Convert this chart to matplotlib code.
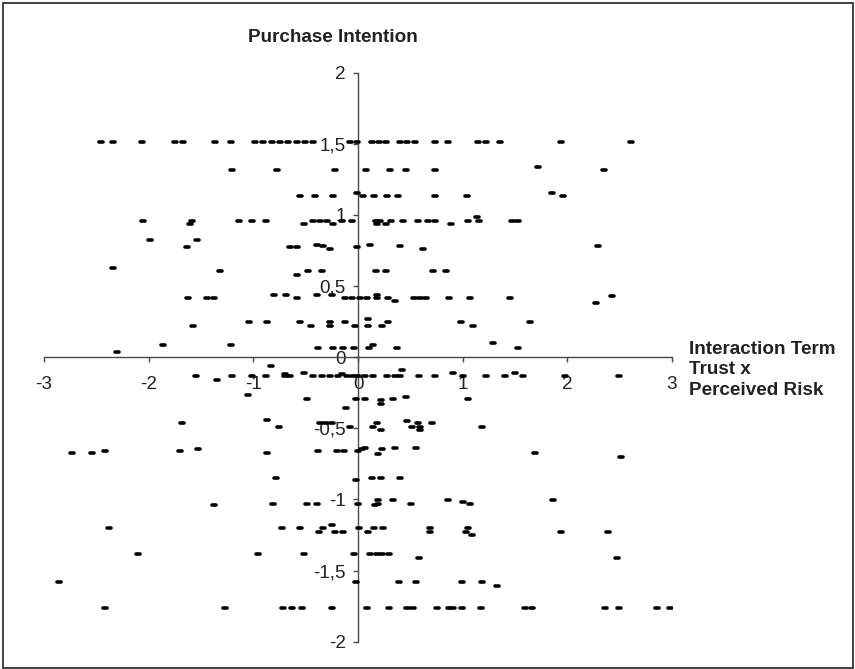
from __future__ import annotations

import matplotlib

matplotlib.use("Agg")
import matplotlib.pyplot as plt
from matplotlib.markers import MarkerStyle
from matplotlib.patches import Rectangle
from matplotlib.ticker import FuncFormatter, MultipleLocator


# Interaction term (trust x perceived risk) and purchase intention, band by band
interaction_term = [
    # ~1.5
    -2.458, -2.344, -2.067, -1.748, -1.669, -1.366, -1.216, -0.984, -0.904, -0.825,
    -0.745, -0.666, -0.586, -0.506, -0.427, -0.076, -0.013, 0.131, 0.201, 0.264,
    0.401, 0.471, 0.545, 0.736, 0.857, 1.150, 1.223, 1.357, 1.939, 2.608,
    # ~1.3
    -1.207, -0.771, -0.220, 0.076, 0.306, 0.456, 0.736, 2.353, 1.723,
    # ~1.15
    -0.554, -0.411, -0.236, 0.051, 0.153, 0.280, 0.385, 0.736, 1.038, 1.962,
    -0.013, 1.857,
    # ~0.96
    -2.051, -1.589, -1.134, -1.010, -0.882, -0.427, -0.363, -0.299, -0.156, -0.060,
    0.169, 0.210, 0.315, 0.433, 0.570, 0.666, 0.736, 1.054, 1.156, 1.468,
    1.532, -1.605, -0.516, -0.242, 0.179, 0.268, 0.889, 1.140,
    # ~0.8
    -1.987, -1.541, -1.637, -0.650, -0.586, -0.008, 0.401, 2.290, -0.395, -0.331,
    -0.268, 0.115, 0.618,
    # ~0.6
    -2.338, -1.318, -0.474, -0.347, 0.169, 0.268, 0.720, 0.838, -0.586,
    # ~0.42
    -0.799, -0.688, -0.389, -0.252, 0.185, 2.424, -1.621, -1.446, -1.373, -0.586,
    -0.124, -0.054, 0.019, 0.083, 0.185, 0.290, 0.535, 0.592, 0.650, 0.869,
    1.070, 1.455, 0.354, 2.274,
    # ~0.24
    0.099, -1.038, -0.867, -0.554, -0.268, -0.124, 0.284, 0.984, 1.643, -1.573,
    -0.452, -0.268, -0.030, 0.092, 0.232, 1.102,
    # ~0.07
    -1.860, -1.216, 1.287, 0.147, -0.385, -0.236, -0.140, -0.040, 0.108, 0.369,
    1.532, -2.306,
    # ~-0.12
    -0.834, 0.424, -0.513, 0.905, 1.500, -0.156, -0.700, -1.551, -1.201, -1.016,
    -0.879, -0.697, -0.650, -0.427, -0.347, -0.268, -0.188, -0.108, -0.045, 0.003,
    0.067, 0.147, 0.274, 0.354, 0.401, 0.586, 0.736, 1.000, 1.223, 1.404,
    1.580, 1.978, 2.497, -1.350,
    # ~-0.3
    -1.048, -0.490, -0.020, 0.067, 0.338, 1.054, 0.456, 0.220, 0.220, -0.115,
    # ~-0.47
    -0.867, 0.471, -1.684, -0.363, -0.306, -0.252, 0.185, 0.576, 0.704, -0.752,
    -0.076, 0.147, 0.513, 0.592, 1.188, 0.220, 0.592,
    # ~-0.66
    -1.526, 0.035, 0.226, 0.067, 0.354, 0.554, -1.701, -2.417, -0.379, -0.204,
    -0.134, 0.000, -2.736, -2.538, -0.867, 1.691, 0.188, 2.510,
    # ~-0.85
    -0.783, -0.020, 0.131, 0.220, 0.401,
    # ~-1.02
    0.338, 0.857, 1.860, 0.194, -0.815, -0.490, -0.395, 0.000, 0.194, 0.503,
    1.070, 1.000, 0.162, -1.373,
    # ~-1.2
    -2.376, -0.723, -0.554, -0.331, 0.010, 0.153, 0.236, 0.688, 1.054, -0.252,
    -0.369, -0.220, -0.140, 0.092, 0.688, 1.032, 1.092, 1.939, 2.392,
    # ~-1.39
    -2.105, -0.952, -0.516, -0.040, 0.115, 0.179, 0.226, 0.299, 0.586, 2.478,
    # ~-1.58
    -2.853, -0.015, 0.395, 0.554, 0.991, 1.188, 1.325,
    # ~-1.76
    -2.417, -1.271, -0.713, -0.634, -0.538, -0.252, 0.083, 0.299, 0.465, 0.522,
    0.752, 0.872, 0.911, 0.991, 1.175, 1.595, 1.660, 2.360, 2.494, 2.860,
    2.981,
]

purchase_intention = [
    # ~1.5
    1.51, 1.51, 1.51, 1.51, 1.51, 1.51, 1.51, 1.51, 1.51, 1.51,
    1.51, 1.51, 1.51, 1.51, 1.51, 1.51, 1.51, 1.51, 1.51, 1.51,
    1.51, 1.51, 1.51, 1.51, 1.51, 1.51, 1.51, 1.51, 1.51, 1.51,
    # ~1.3
    1.317, 1.317, 1.317, 1.317, 1.317, 1.317, 1.317, 1.317, 1.34,
    # ~1.15
    1.13, 1.13, 1.13, 1.13, 1.13, 1.13, 1.13, 1.13, 1.13, 1.13,
    1.153, 1.153,
    # ~0.96
    0.959, 0.959, 0.959, 0.959, 0.959, 0.959, 0.959, 0.959, 0.959, 0.959,
    0.959, 0.959, 0.959, 0.959, 0.959, 0.959, 0.959, 0.959, 0.959, 0.959,
    0.959, 0.933, 0.933, 0.933, 0.936, 0.936, 0.936, 0.985,
    # ~0.8
    0.826, 0.826, 0.774, 0.774, 0.774, 0.774, 0.779, 0.779, 0.791, 0.784,
    0.763, 0.79, 0.763,
    # ~0.6
    0.627, 0.604, 0.604, 0.604, 0.604, 0.604, 0.604, 0.604, 0.580,
    # ~0.42
    0.44, 0.44, 0.44, 0.44, 0.44, 0.428, 0.416, 0.416, 0.416, 0.416,
    0.416, 0.416, 0.416, 0.416, 0.416, 0.416, 0.416, 0.416, 0.416, 0.416,
    0.416, 0.416, 0.393, 0.381,
    # ~0.24
    0.271, 0.248, 0.248, 0.248, 0.248, 0.248, 0.248, 0.248, 0.248, 0.222,
    0.222, 0.222, 0.222, 0.222, 0.222, 0.222,
    # ~0.07
    0.089, 0.089, 0.098, 0.084, 0.065, 0.065, 0.065, 0.065, 0.065, 0.065,
    0.065, 0.037,
    # ~-0.12
    -0.063, -0.087, -0.110, -0.110, -0.110, -0.117, -0.115, -0.133, -0.133, -0.133,
    -0.133, -0.133, -0.133, -0.133, -0.133, -0.133, -0.133, -0.133, -0.133, -0.133,
    -0.133, -0.133, -0.133, -0.133, -0.133, -0.133, -0.133, -0.133, -0.133, -0.133,
    -0.133, -0.133, -0.133, -0.157,
    # ~-0.3
    -0.267, -0.293, -0.293, -0.293, -0.293, -0.293, -0.281, -0.304, -0.328, -0.356,
    # ~-0.47
    -0.442, -0.449, -0.465, -0.465, -0.465, -0.465, -0.465, -0.465, -0.465, -0.491,
    -0.491, -0.491, -0.491, -0.491, -0.489, -0.512, -0.512,
    # ~-0.66
    -0.648, -0.648, -0.648, -0.64, -0.637, -0.637, -0.660, -0.660, -0.660, -0.660,
    -0.660, -0.660, -0.674, -0.674, -0.674, -0.674, -0.683, -0.700,
    # ~-0.85
    -0.847, -0.860, -0.847, -0.847, -0.847,
    # ~-1.02
    -1.006, -1.006, -1.006, -1.006, -1.029, -1.029, -1.029, -1.029, -1.029, -1.029,
    -1.029, -1.015, -1.040, -1.039,
    # ~-1.2
    -1.202, -1.202, -1.202, -1.202, -1.202, -1.202, -1.202, -1.202, -1.202, -1.182,
    -1.226, -1.226, -1.226, -1.226, -1.226, -1.226, -1.249, -1.226, -1.226,
    # ~-1.39
    -1.385, -1.385, -1.385, -1.385, -1.385, -1.385, -1.385, -1.385, -1.409, -1.409,
    # ~-1.58
    -1.579, -1.579, -1.579, -1.579, -1.579, -1.579, -1.607,
    # ~-1.76
    -1.764, -1.764, -1.764, -1.764, -1.764, -1.764, -1.764, -1.764, -1.764, -1.764,
    -1.764, -1.764, -1.764, -1.764, -1.764, -1.764, -1.764, -1.764, -1.764, -1.764,
    -1.764,
]

x_ticks = [-3, -2, -1, 0, 1, 2, 3]
y_ticks = [-2, -1.5, -1, -0.5, 0, 0.5, 1, 1.5, 2]

AXIS_COLOR = "#4a4a4a"
TEXT_COLOR = "#222222"
FONT_SIZE = 13.6


def comma_decimal(value: float, _pos: int) -> str:
    return f"{value:g}".replace(".", ",")


def main() -> None:
    plt.rcParams["font.family"] = ["Liberation Sans", "DejaVu Sans"]
    plt.rcParams["axes.unicode_minus"] = False

    fig = plt.figure(figsize=(8.55, 6.69), dpi=100)
    ax = fig.add_axes([0.0515, 0.0408, 0.7345, 0.8505])

    dash = MarkerStyle("_", capstyle="round")
    ax.plot(interaction_term, purchase_intention, linestyle="none", marker=dash,
            markersize=2.7, markeredgewidth=2.6, color="black", zorder=3)

    ax.set_xlim(-3, 3)
    ax.set_ylim(-2, 2)
    ax.set_xticks(x_ticks)
    ax.set_yticks(y_ticks)
    ax.xaxis.set_major_formatter(FuncFormatter(comma_decimal))
    ax.yaxis.set_major_formatter(FuncFormatter(comma_decimal))
    ax.xaxis.set_minor_locator(MultipleLocator(10))

    # axes cross at the origin, Excel style
    for side in ("top", "right"):
        ax.spines[side].set_visible(False)
    for side in ("left", "bottom"):
        ax.spines[side].set_position(("data", 0))
        ax.spines[side].set_color(AXIS_COLOR)
        ax.spines[side].set_linewidth(1.0)
        ax.spines[side].set_zorder(2)

    ax.tick_params(axis="x", direction="out", length=3.8, width=1.0, color=AXIS_COLOR,
                   labelsize=FONT_SIZE, pad=9.5, labelcolor=TEXT_COLOR)
    ax.tick_params(axis="y", direction="out", length=3.8, width=1.0, color=AXIS_COLOR,
                   labelsize=FONT_SIZE, pad=5.0, labelcolor=TEXT_COLOR)
    ax.patch.set_visible(False)

    fig.text(333 / 855, 1 - 38 / 669, "Purchase Intention", ha="center", va="center",
             fontsize=FONT_SIZE, fontweight="bold", color=TEXT_COLOR)
    fig.text(689 / 855, 1 - 370 / 669, "Interaction Term\nTrust x\nPerceived Risk",
             ha="left", va="center", fontsize=FONT_SIZE, fontweight="bold",
             color=TEXT_COLOR, linespacing=1.3)

    # thin frame around the whole chart area
    fig.patches.append(Rectangle((2.5 / 855, 1.5 / 669), 850 / 855, 665 / 669,
                                 transform=fig.transFigure, fill=False,
                                 edgecolor="#333333", linewidth=1.3))

    fig.savefig("out.png", dpi=100, facecolor="white")
    plt.close(fig)


if __name__ == "__main__":
    main()
